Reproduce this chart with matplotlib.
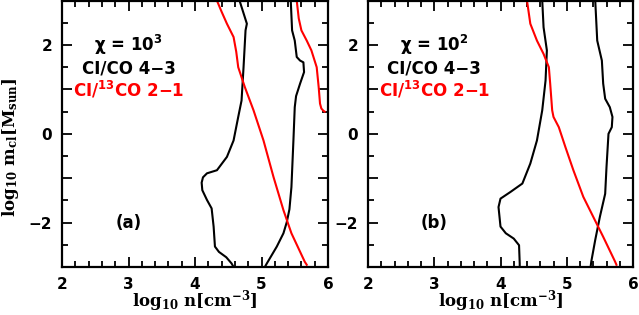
import matplotlib
matplotlib.use("Agg")
import matplotlib.pyplot as plt
from matplotlib.ticker import MultipleLocator

# ---------------- data (log10 n, log10 m) ----------------
# panel (a): chi = 1e3
a_ci_co_left_x = [4.67, 4.78, 4.76, 4.73, 4.70, 4.65, 4.58, 4.48, 4.33, 4.18, 4.12, 4.10, 4.11, 4.18, 4.25, 4.28, 4.30, 4.36, 4.47, 4.55, 4.58]
a_ci_co_left_y = [3.00, 2.48, 2.33, 1.50, 0.75, 0.38, -0.15, -0.52, -0.82, -0.89, -0.98, -1.10, -1.27, -1.49, -1.68, -2.09, -2.54, -2.66, -2.78, -2.92, -3.00]
a_ci_co_right_x = [5.44, 5.46, 5.50, 5.53, 5.58, 5.63, 5.64, 5.58, 5.52, 5.50, 5.48, 5.45, 5.42, 5.38, 5.33, 5.23, 5.08, 5.05]
a_ci_co_right_y = [3.00, 2.33, 2.10, 1.73, 1.65, 1.61, 1.39, 1.13, 0.85, 0.60, -0.15, -1.20, -1.70, -1.99, -2.24, -2.54, -2.92, -3.00]
a_ci13co_left_x = [4.33, 4.40, 4.48, 4.58, 4.62, 4.65, 4.75, 4.88, 5.03, 5.18, 5.33, 5.45, 5.65, 5.68]
a_ci13co_left_y = [3.00, 2.75, 2.48, 2.18, 1.85, 1.50, 1.05, 0.53, -0.15, -0.97, -1.72, -2.24, -2.88, -2.95]
a_ci13co_right_x = [5.53, 5.56, 5.60, 5.68, 5.75, 5.83, 5.86, 5.88, 5.90, 5.93, 5.95]
a_ci13co_right_y = [3.00, 2.60, 2.33, 2.10, 1.88, 1.50, 1.05, 0.68, 0.57, 0.52, 0.50]

# panel (b): chi = 1e2
b_ci_co_left_x = [4.63, 4.65, 4.70, 4.68, 4.63, 4.55, 4.45, 4.33, 4.15, 4.00, 3.97, 4.00, 4.08, 4.20, 4.28, 4.29, 4.29]
b_ci_co_left_y = [3.00, 2.40, 1.88, 1.20, 0.53, -0.15, -0.67, -1.12, -1.31, -1.46, -1.65, -2.09, -2.24, -2.36, -2.51, -2.92, -3.00]
b_ci_co_right_x = [5.43, 5.46, 5.53, 5.55, 5.58, 5.65, 5.69, 5.68, 5.63, 5.60, 5.58, 5.50, 5.43, 5.37, 5.36]
b_ci_co_right_y = [3.00, 2.10, 1.65, 1.13, 0.79, 0.60, 0.38, 0.15, 0.00, -0.75, -1.35, -1.87, -2.39, -2.88, -3.00]
b_ci13co_x = [4.40, 4.45, 4.55, 4.65, 4.73, 4.75, 4.78, 4.80, 4.88, 4.98, 5.10, 5.25, 5.40, 5.55, 5.73, 5.75]
b_ci13co_y = [3.00, 2.48, 2.10, 1.80, 1.50, 1.13, 0.53, 0.38, 0.15, -0.30, -0.82, -1.42, -1.87, -2.32, -2.88, -2.95]

x_ticks = [2, 3, 4, 5, 6]
y_ticks = [-3, -2, -1, 0, 1, 2, 3]
y_tick_labels = ["", "\u22122", "", "0", "", "2", ""]
chi_labels = [r"$\chi$ = 10$^{3}$", r"$\chi$ = 10$^{2}$"]
panel_labels = ["(a)", "(b)"]

plt.rcParams["mathtext.fontset"] = "dejavuserif"
plt.rcParams["mathtext.default"] = "bf"

fig = plt.figure(figsize=(6.39, 3.15), dpi=100)
axa = fig.add_axes([62/639, 1 - 267/315, 266/639, 267/315 - 0.002])
axb = fig.add_axes([368/639, 1 - 267/315, 265/639, 267/315 - 0.002])

panels = [
    (axa, [(a_ci_co_left_x, a_ci_co_left_y), (a_ci_co_right_x, a_ci_co_right_y)],
     [(a_ci13co_left_x, a_ci13co_left_y), (a_ci13co_right_x, a_ci13co_right_y)]),
    (axb, [(b_ci_co_left_x, b_ci_co_left_y), (b_ci_co_right_x, b_ci_co_right_y)],
     [(b_ci13co_x, b_ci13co_y)]),
]

for i, (ax, blacks, reds) in enumerate(panels):
    for xs, ys in blacks:
        ax.plot(xs, ys, color="black", lw=1.5, solid_joinstyle="round")
    for xs, ys in reds:
        ax.plot(xs, ys, color="red", lw=1.5, solid_joinstyle="round")
    ax.set_xlim(2, 6)
    ax.set_ylim(-3, 3)
    ax.set_xticks(x_ticks)
    ax.xaxis.set_minor_locator(MultipleLocator(0.2))
    ax.set_yticks(y_ticks)
    ax.yaxis.set_minor_locator(MultipleLocator(0.5))
    ax.tick_params(which="both", direction="in", top=True, right=True, width=1.3)
    ax.tick_params(which="major", length=7, labelsize=11, pad=7)
    ax.tick_params(which="minor", length=4.5)
    ax.set_yticklabels(y_tick_labels)
    ax.set_xticklabels([str(t) for t in x_ticks])
    for lab in ax.get_xticklabels() + ax.get_yticklabels():
        lab.set_fontweight("bold")
        lab.set_family("DejaVu Sans")
    for sp in ax.spines.values():
        sp.set_linewidth(1.6)
    ax.set_xlabel(r"log$_{10}$ n[cm$^{-3}$]", fontsize=12, fontweight="bold",
                  family="DejaVu Serif")
    ax.xaxis.set_label_coords(0.5, -0.078)
    ax.text(3.0, 2.0, chi_labels[i], ha="center", va="center", fontsize=12,
            fontweight="bold", family="DejaVu Sans", math_fontfamily="dejavusans")
    ax.text(3.0, 1.48, "CI/CO 4\u22123", ha="center", va="center", fontsize=12,
            fontweight="bold", family="DejaVu Sans")
    ax.text(3.0, 0.98, r"CI/$^{\mathbf{13}}$CO 2$-$1", ha="center", va="center", fontsize=12,
            fontweight="bold", color="red", family="DejaVu Sans", math_fontfamily="dejavusans")
    ax.text(3.0, -2.0, panel_labels[i], ha="center", va="center", fontsize=12,
            fontweight="bold", family="DejaVu Sans")

axa.set_ylabel(r"log$_{10}$ m$_{cl}$[M$_{sun}$]", fontsize=12, fontweight="bold",
               family="DejaVu Serif")
axa.yaxis.set_label_coords(-0.155, 0.45)

fig.savefig("out.png", dpi=100)
